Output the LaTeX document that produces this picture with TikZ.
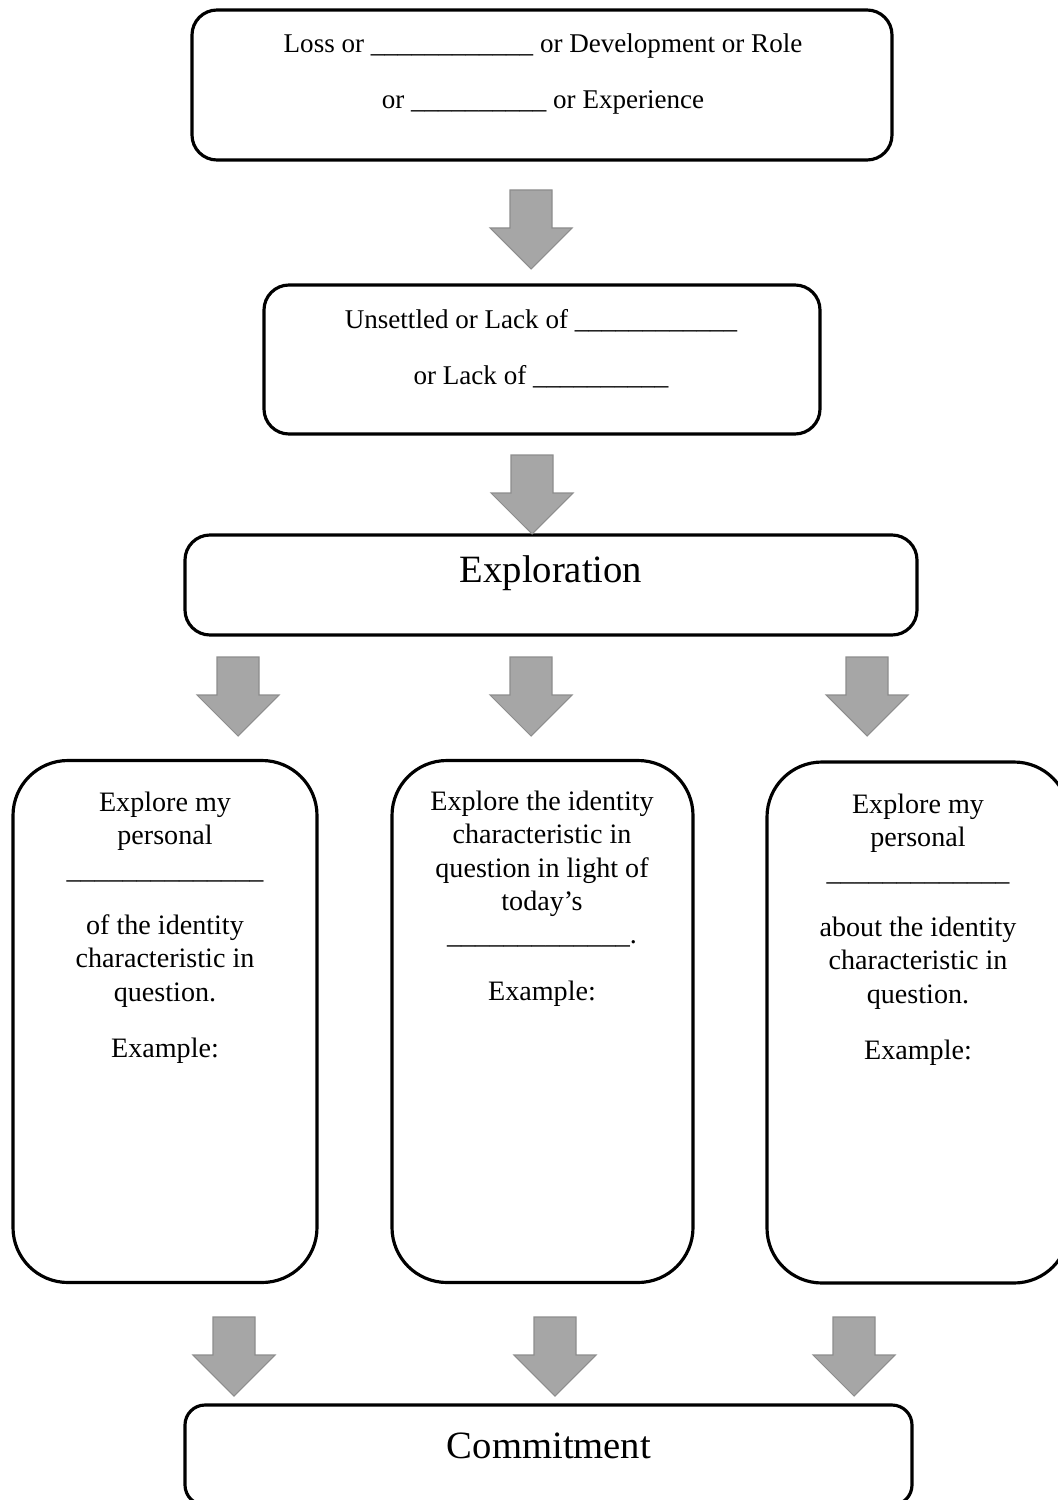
\documentclass[tikz,border=0pt]{standalone}
\usepackage{fontspec}
\setmainfont{Liberation Serif}
\usetikzlibrary{positioning}
\definecolor{arrowgray}{HTML}{A6A6A6}
\newcommand{\gapline}[1]{\foreach \i in {1,...,#1}{\_}}
\tikzset{
  widebox/.style = {
    draw,
    line width=0.9pt,
    rounded corners=2.5mm,
    inner sep=0pt
  },
  tallbox/.style = {
    draw,
    line width=0.9pt,
    rounded corners=5.5mm,
    inner sep=0pt,
    minimum width=30.4mm,
    minimum height=52.2mm
  },
  boxtext/.style = {
    align=center,
    inner sep=0pt,
    font=\fontsize{7.7}{15.9}\selectfont
  },
  stagetext/.style = {
    inner sep=0pt,
    font=\fontsize{11}{13}\selectfont
  },
  coltext/.style = {
    align=center,
    anchor=north,
    inner sep=0pt,
    font=\fontsize{8}{9.5}\selectfont
  },
  downarrow/.pic = {
    \path[fill=arrowgray, draw=arrowgray!85!black, line width=0.3pt]
      (-2.1mm,0) -- (2.1mm,0) -- (2.1mm,-3.8mm) -- (4.1mm,-3.8mm)
      -- (0,-7.9mm) -- (-4.1mm,-3.8mm) -- (-2.1mm,-3.8mm) -- cycle;
  }
}

\begin{document}
\begin{tikzpicture}[x=0.1mm, y=-0.1mm]
    \useasboundingbox (0,0) rectangle (1057,1500);
    % upper stages
    \node[widebox, minimum width=70mm, minimum height=15mm] (loss) at (542,85) {};
    \node[boxtext] (losstext) at (543,74) {Loss or \gapline{12} or Development or Role\\or \gapline{10} or Experience};
    \node[widebox, minimum width=55.6mm, minimum height=14.9mm] (unsettled) at (542,359.5) {};
    \node[boxtext] (unsettledtext) at (541,348.5) {Unsettled or Lack of \gapline{12}\\or Lack of \gapline{10}};
    \node[widebox, minimum width=73.2mm, minimum height=10mm] (exploration) at (551,585) {};
    \node[stagetext] (explorationtext) at (551,573) {Exploration};
    % three columns
    \node[tallbox] (personalbox) at (165,1021.5) {};
    \node[tallbox, minimum width=30.1mm] (todaybox) at (542.5,1021.5) {};
    \node[tallbox, minimum width=30.2mm, minimum height=52.1mm] (beliefbox) at (918,1022.5) {};
    \node[coltext] (personaltext) at (165,791) {Explore my\\personal\\\gapline{14}\\[2.3mm]of the identity\\characteristic in\\question.\\[2.3mm]Example:};
    \node[coltext] (todaytext) at (542,790) {Explore the identity\\characteristic in\\question in light of\\today’s\\\gapline{13}.\\[2.3mm]Example:};
    \node[coltext] (belieftext) at (918,793) {Explore my\\personal\\\gapline{13}\\[2.3mm]about the identity\\characteristic in\\question.\\[2.3mm]Example:};
    % last stage
    \node[widebox, rounded corners=2mm, minimum width=72.7mm, minimum height=10mm] (commitment) at (548.5,1455) {};
    \node[stagetext] (commitmenttext) at (549,1446) {Commitment};
    % block arrows
    \pic (arrowa) at (531,190) {downarrow};
    \pic (arrowb) at (532,455) {downarrow};
    \pic (arrowc) at (238,657) {downarrow};
    \pic (arrowd) at (531,657) {downarrow};
    \pic (arrowe) at (867,657) {downarrow};
    \pic (arrowf) at (234,1317) {downarrow};
    \pic (arrowg) at (555,1317) {downarrow};
    \pic (arrowh) at (854,1317) {downarrow};
  \end{tikzpicture}
\end{document}
